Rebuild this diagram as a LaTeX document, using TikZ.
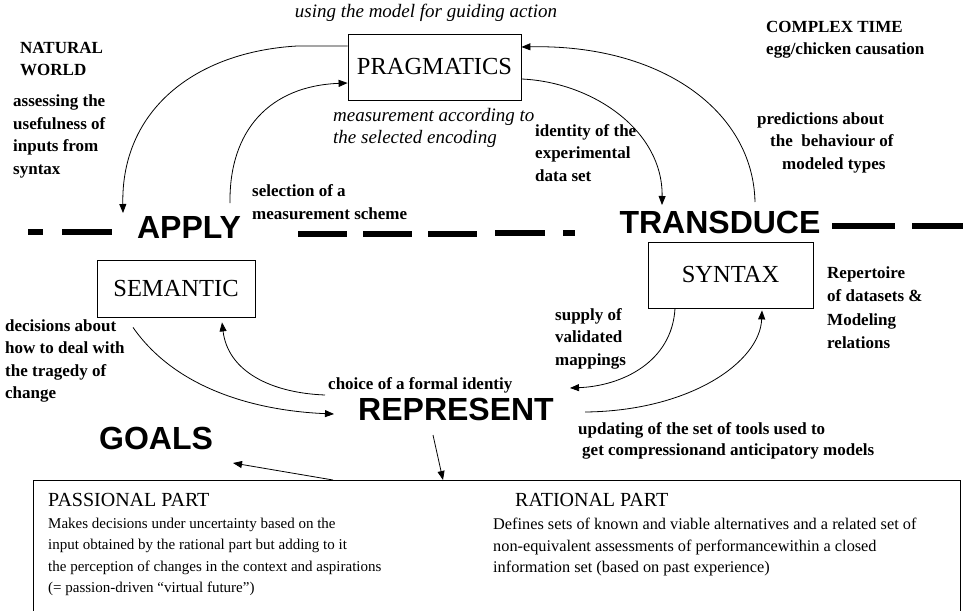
\documentclass[tikz,border=0pt]{standalone}
\usepackage{fontspec}
\setmainfont{Liberation Serif}
\newfontfamily\headsans{Liberation Sans}
\usetikzlibrary{arrows.meta}
\begin{document}
\begin{tikzpicture}[x=1pt,y=-1pt,
  conn/.style={line width=0.8pt,-{Triangle[length=9pt,width=7pt]}},
  boxnode/.style={draw,line width=0.8pt,inner sep=0pt,font=\fontsize{24.5}{27}\selectfont},
  stage/.style={inner sep=0pt,font=\headsans\bfseries\fontsize{32}{36}\selectfont},
  note/.style={inner sep=0pt,anchor=west,align=left,font=\bfseries\fontsize{17}{22.5}\selectfont},
  inote/.style={note,font=\itshape\fontsize{19}{22}\selectfont},
  dashseg/.style={line width=5.5pt},
  parthead/.style={inner sep=0pt,anchor=west,font=\fontsize{20}{22}\selectfont},
  partbody/.style={inner sep=0pt,anchor=west,align=left,font=\fontsize{15}{21.5}\selectfont},
]
\useasboundingbox[fill=white] (0,0) rectangle (963,610);

% ---- boxes ----
\node[boxnode,minimum width=173pt,minimum height=66pt] (prag) at (434.5,67) {PRAGMATICS};
\node[boxnode,minimum width=158pt,minimum height=57pt] (sem) at (176,288.5) {SEMANTIC};
\node[boxnode,minimum width=165pt,minimum height=66pt] (syn) at (730.5,275) {SYNTAX};
\node[draw,line width=0.8pt,inner sep=0pt,anchor=north west,
      minimum width=927pt,minimum height=170pt] (parts) at (33,480) {};

% ---- stage labels ----
\node[stage] (apply) at (189,227) {APPLY};
\node[stage] (transduce) at (720,222) {TRANSDUCE};
\node[stage] (represent) at (456,409) {REPRESENT};
\node[stage] (goals) at (156,438) {GOALS};

% ---- dashed horizon ----
\foreach \a/\b/\y in {28/43/232, 62/112/232, 298/347/234, 363/412/234, 428/477/234,
                      495/545/233, 563/575/233, 832/895/226, 912/963/226}
  \draw[dashseg] (\a,\y) -- (\b,\y);

% ---- annotations ----
\node[inote,anchor=center] (usetxt) at (426,13) {using the model for guiding action};
\node[inote] (meastxt) at (333,128) {measurement according to\\the selected encoding};
\node[note] (natural) at (20,59) {NATURAL\\WORLD};
\node[note] (complex) at (766,39.5) {COMPLEX TIME\\egg/chicken causation};
\node[note] (assess) at (13,136.5) {assessing the\\usefulness of\\inputs from\\syntax};
\node[note] (select) at (252,202) {selection of a\\measurement scheme};
\node[note] (identity) at (535,153) {identity of the\\experimental\\data set};
\node[note] (predict) at (757,142.5) {predictions about\\\hspace*{13pt}the\ \ behaviour of\\\hspace*{25pt}modeled types};
\node[note,font=\bfseries\fontsize{17}{23.5}\selectfont] (repert) at (827,307.5) {Repertoire\\of datasets \&\\Modeling\\relations};
\node[note] (supply) at (555,338.5) {supply of\\validated\\mappings};
\node[note] (decide) at (5,361) {decisions about\\how to deal with\\the tragedy of\\change};
\node[note] (choice) at (328,385) {choice of a formal identiy};
\node[note,font=\bfseries\fontsize{17}{21}\selectfont] (update) at (578,440.5) {updating of the set of tools used to\\\hspace*{4pt}get compressionand anticipatory models};

% ---- parts of the decision box ----
\node[parthead] (passhead) at (48,500) {PASSIONAL PART};
\node[partbody] (passbody) at (48,557) {Makes decisions under uncertainty based on the\\input obtained by the rational part but adding to it\\the perception of changes in the context and aspirations\\(= passion-driven ``virtual future'')};
\node[parthead] (rathead) at (515,500) {RATIONAL PART};
\node[partbody,font=\fontsize{16.3}{21.5}\selectfont] (ratbody) at (493,547) {Defines sets of known and viable alternatives and a related set of\\non-equivalent assessments of performancewithin a closed\\information set (based on past experience)};

% ---- free ends of the connectors ----
\coordinate (applyIn) at (123,213);
\coordinate (applyOut) at (230,203);
\coordinate (transIn) at (662,205);
\coordinate (transOut) at (755,202);
\coordinate (repIn) at (570,388);
\coordinate (repOut) at (585,412);
\coordinate (repLeftIn) at (334,414);
\coordinate (repLeftOut) at (325,395);
\coordinate (repDown) at (433,435);
\coordinate (goalsIn) at (233,463);

% ---- connectors ----
\draw[conn] ([yshift=21pt]prag.west) -- (297,46)
  .. controls (195,52) and (121,110) .. (applyIn);
\draw[conn] (applyOut) .. controls (229,130) and (270,86) .. ([yshift=-16pt]prag.west);
\draw[conn] ([yshift=-12pt]prag.east) .. controls (592,82) and (663,130) .. (transIn);
\draw[conn] (transOut) .. controls (753,110) and (660,44) .. ([yshift=20pt]prag.east);
\draw[conn] ([xshift=-55.5pt]syn.south) .. controls (672,362) and (622,386) .. (repIn);
\draw[conn] (repOut) .. controls (690,411) and (760,362) .. ([xshift=31.5pt,yshift=-2pt]syn.south);
\draw[conn] ([xshift=-43pt,yshift=-10pt]sem.south) .. controls (178,392) and (262,411) .. (repLeftIn);
\draw[conn] (repLeftOut) .. controls (272,393) and (228,372) .. ([xshift=46pt,yshift=-5pt]sem.south);
\draw[conn] ([xshift=300pt]parts.north west) -- (goalsIn);
\draw[conn] (repDown) -- ([xshift=410pt]parts.north west);
\end{tikzpicture}
\end{document}
